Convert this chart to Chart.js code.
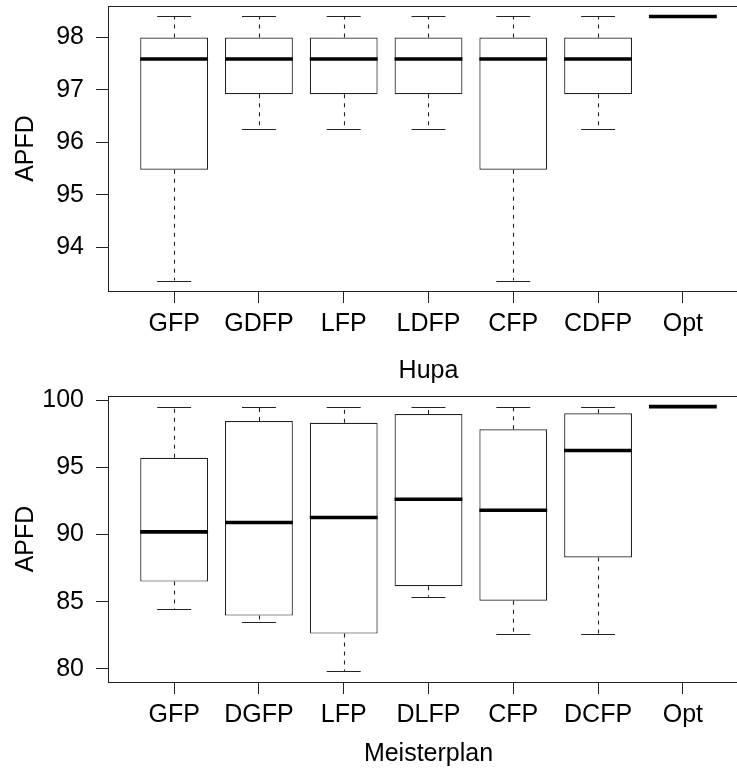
<!DOCTYPE html>
<html>
<head>
<meta charset="utf-8">
<script src="https://cdn.jsdelivr.net/npm/chart.js@4/dist/chart.umd.min.js"></script>
<style>
  body { margin: 0; background: #fff; overflow: hidden; width: 737px; height: 776px; }
  .panel { position: relative; width: 760px; height: 388px; }
  canvas { display: block; }
</style>
</head>
<body>
<div class="panel"><canvas id="hupaChart" width="760" height="388"></canvas></div>
<div class="panel"><canvas id="meisterChart" width="760" height="388"></canvas></div>
<script>
// Hupa
const hupaLabels = ["GFP", "GDFP", "LFP", "LDFP", "CFP", "CDFP", "Opt"];
const hupaMin = [93.37, 96.25, 96.25, 96.25, 93.37, 96.25, 98.4];
const hupaQ1 = [95.48, 96.92, 96.92, 96.92, 95.48, 96.92, 98.4];
const hupaMedian = [97.59, 97.59, 97.59, 97.59, 97.59, 97.59, 98.4];
const hupaQ3 = [98.0, 98.0, 98.0, 98.0, 98.0, 98.0, 98.4];
const hupaMax = [98.4, 98.4, 98.4, 98.4, 98.4, 98.4, 98.4];
const hupaTicks = [94, 95, 96, 97, 98];
const hupaRange = [93.17, 98.6];

// Meisterplan
const meisterLabels = ["GFP", "DGFP", "LFP", "DLFP", "CFP", "DCFP", "Opt"];
const meisterMin = [84.46, 83.49, 79.81, 85.37, 82.56, 82.56, 99.51];
const meisterQ1 = [86.49, 83.96, 82.62, 86.14, 85.07, 88.28, 99.51];
const meisterMedian = [90.19, 90.89, 91.26, 92.62, 91.8, 96.25, 99.51];
const meisterQ3 = [95.71, 98.44, 98.31, 98.96, 97.82, 99.01, 99.51];
const meisterMax = [99.51, 99.51, 99.51, 99.51, 99.51, 99.51, 99.51];
const meisterTicks = [80, 85, 90, 95, 100];
const meisterRange = [79.02, 100.3];

const FONT = { family: "'Liberation Sans', Arial, Helvetica, sans-serif", size: 25 };
Chart.defaults.color = "#000";
Chart.defaults.font.family = FONT.family;

// whiskers, caps and medians drawn from the bar elements + y scale
const boxExtras = {
  id: "boxExtras",
  afterDatasetsDraw(chart, args, opts) {
    const ctx = chart.ctx;
    const y = chart.scales.y;
    const bars = chart.getDatasetMeta(0).data;
    ctx.save();
    bars.forEach((bar, i) => {
      const half = bar.width / 2;
      const yMin = y.getPixelForValue(opts.min[i]);
      const yQ1 = y.getPixelForValue(opts.q1[i]);
      const yQ3 = y.getPixelForValue(opts.q3[i]);
      const yMax = y.getPixelForValue(opts.max[i]);
      const yMed = y.getPixelForValue(opts.median[i]);
      const x = Math.round(bar.x) + 0.5;
      ctx.strokeStyle = "#222";
      ctx.lineWidth = 1.1;
      ctx.setLineDash([4, 5]);
      ctx.beginPath();
      ctx.moveTo(x, yQ3);
      ctx.lineTo(x, yMax);
      ctx.moveTo(x, yQ1);
      ctx.lineTo(x, yMin);
      ctx.stroke();
      ctx.setLineDash([]);
      ctx.beginPath();
      ctx.moveTo(bar.x - half / 2, Math.round(yMax) + 0.5);
      ctx.lineTo(bar.x + half / 2, Math.round(yMax) + 0.5);
      ctx.moveTo(bar.x - half / 2, Math.round(yMin) + 0.5);
      ctx.lineTo(bar.x + half / 2, Math.round(yMin) + 0.5);
      ctx.stroke();
      ctx.strokeStyle = "#000";
      ctx.lineWidth = 3.6;
      ctx.beginPath();
      ctx.moveTo(bar.x - half, yMed);
      ctx.lineTo(bar.x + half, yMed);
      ctx.stroke();
    });
    ctx.restore();
  },
};

const frame = {
  id: "frame",
  afterDraw(chart) {
    const a = chart.chartArea;
    const ctx = chart.ctx;
    ctx.save();
    ctx.strokeStyle = "#222";
    ctx.lineWidth = 1;
    ctx.strokeRect(Math.round(a.left) + 0.5, Math.round(a.top) + 0.5,
      Math.round(a.right - a.left), Math.round(a.bottom - a.top));
    ctx.restore();
  },
};

function makeBoxplot(id, labels, min, q1, median, q3, max, ticks, range, title, pad) {
  const ctx = document.getElementById(id);
  return new Chart(ctx, {
    type: "bar",
    data: {
      datasets: [
        {
          data: labels.map((l, i) => ({ x: i + 1, y: [q1[i], q3[i]] })),
          backgroundColor: "#fff",
          borderColor: "#222",
          borderWidth: 1.2,
          borderSkipped: false,
          categoryPercentage: 1,
          barPercentage: 0.8,
        },
      ],
    },
    options: {
      responsive: false,
      animation: false,
      layout: { padding: { top: pad.top, right: 11, left: 0, bottom: 0 } },
      plugins: {
        legend: { display: false },
        tooltip: { enabled: false },
        boxExtras: { min, q1, median, q3, max },
      },
      scales: {
        x: {
          type: "linear",
          offset: false,
          min: 0.22,
          max: 7.78,
          afterFit: (s) => {
            s.height = pad.xHeight;
            s.paddingLeft = 0;
            s.paddingRight = 0;
          },
          afterBuildTicks: (s) => { s.ticks = labels.map((l, i) => ({ value: i + 1 })); },
          ticks: {
            font: FONT,
            padding: 6,
            maxRotation: 0,
            autoSkip: false,
            callback: (v) => labels[v - 1],
          },
          grid: { offset: false, drawOnChartArea: false, tickLength: 12, color: "#222" },
          border: { display: true, color: "#222" },
          title: { display: true, text: title, font: FONT, padding: { top: 0, bottom: pad.title } },
        },
        y: {
          min: range[0],
          max: range[1],
          afterFit: (s) => {
            s.width = 108;
            s.paddingTop = 0;
            s.paddingBottom = 0;
          },
          afterBuildTicks: (s) => { s.ticks = ticks.map((v) => ({ value: v })); },
          ticks: { font: FONT, padding: 12 },
          grid: { drawOnChartArea: false, tickLength: 12, color: "#222" },
          border: { display: true, color: "#222" },
          title: { display: true, text: "APFD", font: FONT, padding: { top: 11, bottom: 0 } },
        },
      },
    },
    plugins: [boxExtras, frame],
  });
}

makeBoxplot("hupaChart", hupaLabels, hupaMin, hupaQ1, hupaMedian, hupaQ3, hupaMax,
  hupaTicks, hupaRange, "Hupa", { top: 6, xHeight: 97, title: 2 });
makeBoxplot("meisterChart", meisterLabels, meisterMin, meisterQ1, meisterMedian, meisterQ3, meisterMax,
  meisterTicks, meisterRange, "Meisterplan", { top: 8, xHeight: 94, title: 7 });
</script>
</body>
</html>
